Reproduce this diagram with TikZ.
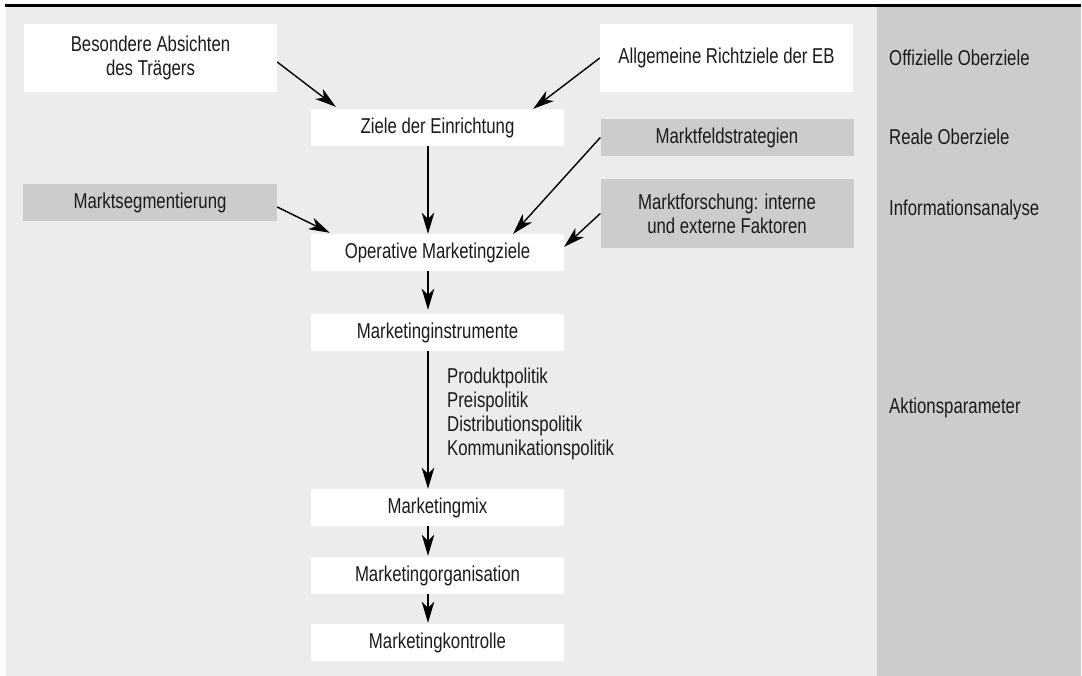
\documentclass[tikz,border=0pt]{standalone}
\usepackage{fontspec}
\setmainfont[FakeStretch=0.78]{Liberation Sans}
\usetikzlibrary{arrows.meta}
\definecolor{bglight}{HTML}{ECECEC}
\definecolor{bgdark}{HTML}{CCCCCC}
\definecolor{ink}{HTML}{1A1A1A}
\begin{document}
\begin{tikzpicture}[x=1pt, y=-1pt, >={Stealth[length=21pt, width=12.5pt, inset=6pt]},
		font=\fontsize{21.5}{24}\selectfont, text=ink,
		box/.style={fill=white, minimum width=253pt, minimum height=37pt, inner sep=0pt, align=center},
		greybox/.style={box, fill=bgdark},
		side/.style={anchor=west, inner sep=0pt},
		link/.style={->, line width=1.4pt}]
		\useasboundingbox (0,0) rectangle (1082,676);
		\fill[bglight] (6,7) rectangle (877,676);
		\fill[bgdark] (877,7) rectangle (1081,676);
		\draw[line width=2.7pt] (5,5.3) -- (1081,5.3);
		% oberste Ebene
		\node[box, minimum height=68pt] (absicht) at (150.5,58) {Besondere Absichten\\des Trägers};
		\node[box, minimum height=68pt] (richt) at (726.5,58) {Allgemeine Richtziele der EB};
		\node[box] (ziele) at (437.5,127.5) {Ziele der Einrichtung};
		\path (richt) ++(0.5,79.5) node[greybox] (feld) {Marktfeldstrategien};
		\path (feld) ++(0,76) node[greybox, minimum height=69pt] (forsch) {Marktforschung: interne\\und externe Faktoren};
		\node[greybox, minimum width=254pt] (segm) at (150,202.5) {Marktsegmentierung};
		% Hauptspalte
		\path (ziele) ++(0,125) node[box] (oper) {Operative Marketingziele};
		\path (oper) ++(0,80) node[box] (instr) {Marketinginstrumente};
		\path (instr) ++(0,175) node[box] (mix) {Marketingmix};
		\path (mix) ++(0,68) node[box] (org) {Marketingorganisation};
		\path (org) ++(0,67) node[box] (kontr) {Marketingkontrolle};
		\node[anchor=north west, align=left, inner sep=0pt] (polit) at (447,368)
			{Produktpolitik\\Preispolitik\\Distributionspolitik\\Kommunikationspolitik};
		% Spalte rechts
		\node[side] (offz) at (889,58) {Offizielle Oberziele};
		\node[side] (real) at (889,137) {Reale Oberziele};
		\node[side] (info) at (889,210) {Informationsanalyse};
		\node[side] (aktion) at (889,408) {Aktionsparameter};
		% Pfeile
		\draw[link] ([yshift=-4pt]absicht.east) -- ([xshift=25pt,yshift=2pt]ziele.north west);
		\draw[link] (richt.west) -- ([xshift=-31pt]ziele.north east);
		\draw[link] ([xshift=-9.5pt]ziele.south) -- ([xshift=-9.5pt]oper.north);
		\draw[link] ([yshift=-4.5pt]segm.east) -- ([xshift=19pt,yshift=1pt]oper.north west);
		\draw[link] (feld.west) -- ([xshift=-51pt]oper.north east);
		\draw[link] (forsch.west) -- ([yshift=-13pt]oper.north east);
		\draw[link] ([xshift=-9.5pt]oper.south) -- ([xshift=-9.5pt,yshift=4pt]instr.north);
		\draw[link] ([xshift=-9.5pt]instr.south) -- ([xshift=-9.5pt]mix.north);
		\draw[link] ([xshift=-9.5pt]mix.south) -- ([xshift=-9.5pt,yshift=1pt]org.north);
		\draw[link] ([xshift=-9.5pt]org.south) -- ([xshift=-9.5pt,yshift=1pt]kontr.north);
	\end{tikzpicture}
\end{document}
